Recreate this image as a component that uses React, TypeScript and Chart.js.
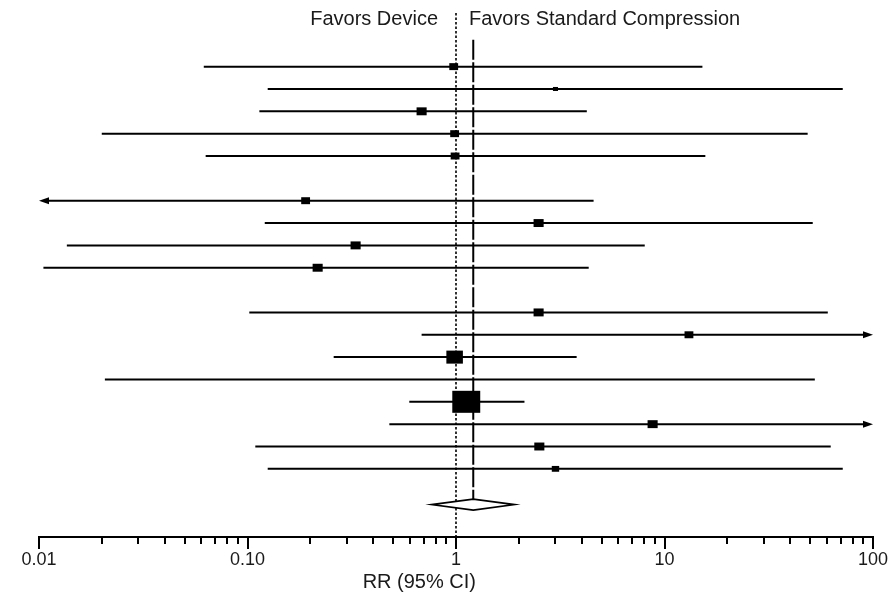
import React, { useEffect, useRef } from "react";
import { Chart, registerables } from "chart.js";
Chart.register(...registerables);

// ---- data ----
const rowPos = [1, 2, 3, 4, 5, 7, 8, 9, 10, 12, 13, 14, 15, 16, 17, 18, 19];
const rr = [0.975, 3.0, 0.684, 0.985, 0.99, 0.19, 2.49, 0.33, 0.217, 2.49, 13.1, 0.985, 1.05, 1.12, 8.77, 2.51, 3.0];
const lower = [0.0617, 0.125, 0.114, 0.02, 0.063, 0.005, 0.121, 0.0136, 0.0105, 0.102, 0.684, 0.259, 0.0207, 0.597, 0.479, 0.109, 0.125];
const upper = [15.2, 71.6, 4.24, 48.6, 15.7, 4.57, 51.4, 8.04, 4.33, 60.7, 150, 3.79, 52.6, 2.13, 150, 62.7, 71.6];
const weights = [10, 3.3, 13, 10, 10, 10, 13, 13, 13, 13, 10, 35, 0, 100, 13, 13, 7];

const pooledRR = 1.21;
const pooledLower = 0.762;
const pooledUpper = 1.91;
const pooledRow = 20.6;

const tickValues = [0.01, 0.1, 1, 10, 100];
const tickLabels = ["0.01", "0.10", "1", "10", "100"];
const headerLeft = "Favors Device";
const headerRight = "Favors Standard Compression";
const axisTitle = "RR (95% CI)";

const FONT = '"Liberation Sans", Arial, Helvetica, sans-serif';

const allTicks: number[] = [];
for (let d = 0.01; d < 99; d *= 10) {
  for (let m = 1; m <= 9; m++) allTicks.push(+(m * d).toPrecision(3));
}
allTicks.push(100);

const forestPlugin = {
  id: "forest",
  afterDatasetsDraw(chart: any) {
    const ctx = chart.ctx as CanvasRenderingContext2D;
    const xs = chart.scales.x;
    const ys = chart.scales.y;
    const area = chart.chartArea;
    const xMin = xs.min;
    const xMax = xs.max;
    ctx.save();
    ctx.strokeStyle = "#000";
    ctx.fillStyle = "#000";

    // null line (dotted) at 1
    const x1 = xs.getPixelForValue(1);
    ctx.lineWidth = 1.6;
    ctx.setLineDash([2.5, 2]);
    ctx.beginPath();
    ctx.moveTo(x1, area.top);
    ctx.lineTo(x1, area.bottom);
    ctx.stroke();

    // pooled estimate line (long dashes)
    const xp = xs.getPixelForValue(pooledRR);
    const diamondY = ys.getPixelForValue(pooledRow);
    ctx.lineWidth = 2;
    ctx.setLineDash([20, 2.5]);
    ctx.beginPath();
    ctx.moveTo(xp, ys.getPixelForValue(-0.2));
    ctx.lineTo(xp, diamondY - 5);
    ctx.stroke();
    ctx.setLineDash([]);

    // study CIs
    for (let i = 0; i < rowPos.length; i++) {
      const y = ys.getPixelForValue(rowPos[i]);
      const lo = Math.max(lower[i], xMin);
      const hi = Math.min(upper[i], xMax);
      const pl = xs.getPixelForValue(lo);
      const ph = xs.getPixelForValue(hi);
      ctx.lineWidth = 2;
      ctx.beginPath();
      ctx.moveTo(lower[i] < xMin ? pl + 6 : pl, y);
      ctx.lineTo(upper[i] > xMax ? ph - 6 : ph, y);
      ctx.stroke();
      if (lower[i] < xMin) {
        ctx.beginPath();
        ctx.moveTo(pl, y);
        ctx.lineTo(pl + 10, y - 3.5);
        ctx.lineTo(pl + 10, y + 3.5);
        ctx.closePath();
        ctx.fill();
      }
      if (upper[i] > xMax) {
        ctx.beginPath();
        ctx.moveTo(ph, y);
        ctx.lineTo(ph - 10, y - 3.5);
        ctx.lineTo(ph - 10, y + 3.5);
        ctx.closePath();
        ctx.fill();
      }
      if (weights[i] > 0) {
        const h = 2.2 * Math.sqrt(weights[i]);
        const w = 1.27 * h;
        const px = xs.getPixelForValue(rr[i]);
        ctx.fillRect(px - w / 2, y - h / 2, w, h);
      }
    }

    // pooled diamond
    const dl = xs.getPixelForValue(pooledLower);
    const dh = xs.getPixelForValue(pooledUpper);
    ctx.beginPath();
    ctx.moveTo(dl, diamondY);
    ctx.lineTo(xp, diamondY - 5.5);
    ctx.lineTo(dh, diamondY);
    ctx.lineTo(xp, diamondY + 5.5);
    ctx.closePath();
    ctx.fillStyle = "#fff";
    ctx.fill();
    ctx.lineWidth = 1.6;
    ctx.stroke();

    // header
    ctx.fillStyle = "#1a1a1a";
    ctx.font = `20px ${FONT}`;
    ctx.textBaseline = "middle";
    ctx.textAlign = "right";
    ctx.fillText(headerLeft, x1 - 18, area.top + 6);
    ctx.textAlign = "left";
    ctx.fillText(headerRight, x1 + 13, area.top + 6);
    ctx.restore();
  },
  afterDraw(chart: any) {
    const ctx = chart.ctx as CanvasRenderingContext2D;
    const xs = chart.scales.x;
    const area = chart.chartArea;
    ctx.save();
    ctx.strokeStyle = "#000";
    ctx.lineWidth = 2;
    for (const v of tickValues) {
      const px = Math.round(xs.getPixelForValue(v));
      ctx.beginPath();
      ctx.moveTo(px, area.bottom);
      ctx.lineTo(px, area.bottom + 12);
      ctx.stroke();
    }
    ctx.fillStyle = "#1a1a1a";
    ctx.font = `20px ${FONT}`;
    ctx.textAlign = "center";
    ctx.textBaseline = "middle";
    ctx.fillText(axisTitle, area.left + (area.right - area.left) * 0.456, area.bottom + 45);
    ctx.restore();
  },
};

export default function App() {
  const ref = useRef<HTMLCanvasElement | null>(null);
  useEffect(() => {
    if (!ref.current) return;
    const chart = new Chart(ref.current, {
      type: "scatter",
      data: {
        datasets: [
          {
            data: rowPos.map((p, i) => ({ x: rr[i], y: p })),
            pointRadius: 0,
            showLine: false,
          },
        ],
      },
      options: {
        animation: false,
        responsive: false,
        events: [],
        layout: { padding: { left: 39, right: 18, top: 13, bottom: 21 } },
        plugins: { legend: { display: false }, tooltip: { enabled: false }, title: { display: false } },
        scales: {
          x: {
            type: "logarithmic",
            min: 0.01,
            max: 100,
            afterBuildTicks: (scale: any) => {
              scale.ticks = allTicks.map((v) => ({ value: v }));
            },
            afterFit: (scale: any) => {
              scale.height = 35;
              scale.paddingLeft = 0;
              scale.paddingRight = 0;
            },
            ticks: {
              autoSkip: false,
              maxRotation: 0,
              padding: 5,
              color: "#1a1a1a",
              font: { family: FONT, size: 18 },
              callback: (value: any) => {
                const idx = tickValues.findIndex((t) => Math.abs(t - Number(value)) < t * 1e-6);
                return idx >= 0 ? tickLabels[idx] : "";
              },
            },
            grid: { drawOnChartArea: false, drawTicks: true, tickLength: 7, color: "#000", lineWidth: 2 },
            border: { display: true, color: "#000", width: 2 },
          },
          y: {
            type: "linear",
            reverse: true,
            min: -1.4,
            max: 22.05,
            display: false,
          },
        },
      },
      plugins: [forestPlugin],
    });
    return () => chart.destroy();
  }, []);
  return (
    <div style={{ position: "absolute", left: 0, top: 0, width: 891, height: 593, background: "#fff" }}>
      <canvas ref={ref} width={891} height={593} style={{ display: "block" }} />
    </div>
  );
}
